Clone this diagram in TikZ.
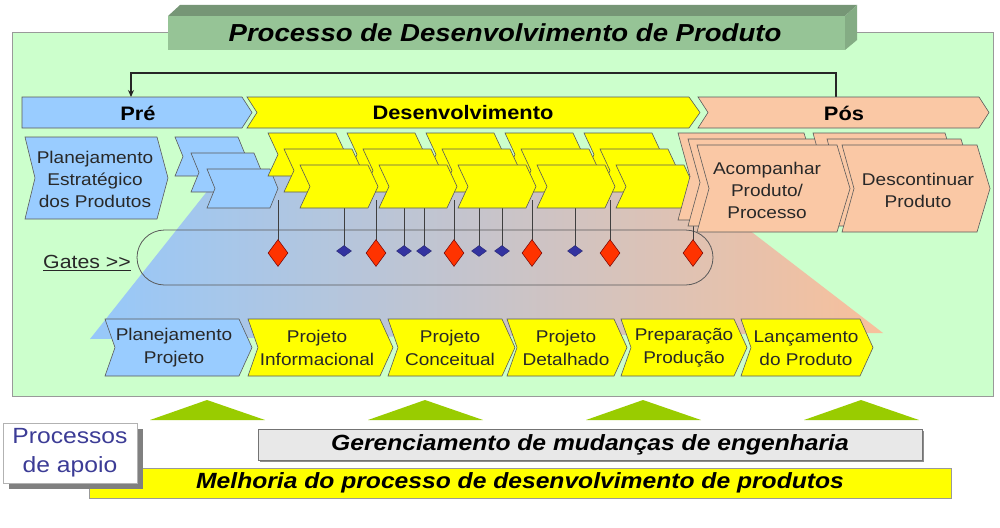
\documentclass[tikz,border=0pt]{standalone}
\usepackage{fontspec}
\setmainfont{Liberation Sans}[FakeStretch=1.12]
\usetikzlibrary{shapes.geometric,arrows.meta}
\definecolor{bggreen}{RGB}{204,255,204}
\definecolor{chblue}{RGB}{153,204,255}
\definecolor{chyel}{RGB}{255,255,0}
\definecolor{chpeach}{RGB}{250,200,165}
\definecolor{edge}{RGB}{90,90,90}
\definecolor{ttfront}{RGB}{150,196,150}
\definecolor{tttop}{RGB}{118,150,118}
\definecolor{ttside}{RGB}{132,172,132}
\definecolor{gred}{RGB}{255,51,0}
\definecolor{gblue}{RGB}{51,51,160}
\definecolor{trigreen}{RGB}{153,204,0}
\definecolor{lbl}{RGB}{40,40,40}
\definecolor{apoio}{RGB}{60,60,150}
\definecolor{shblue}{RGB}{150,200,250}
\definecolor{shmid}{RGB}{210,196,218}
\definecolor{shpeach}{RGB}{248,192,155}
\newcommand\chv[7]{\path[#7] ({#1},{#2}) -- ({#3-#5},{#2}) -- ({#3},{(#2+#4)/2}) -- ({#3-#5},{#4}) -- ({#1},{#4}) -- ({#1+#6},{(#2+#4)/2}) -- cycle;}
\tikzset{
  chev/.style={draw=edge,line width=0.6pt},
  lab/.style={font=\fontsize{17}{22}\selectfont, align=center, text=lbl, inner sep=0pt},
  phase/.style={font=\bfseries\fontsize{19.5}{22}\selectfont, text=black, inner sep=0pt},
  reddia/.style={diamond, draw=red!45!black, fill=gred, inner sep=0pt, minimum width=20pt, minimum height=27pt, line width=0.5pt},
  bluedia/.style={diamond, fill=gblue, draw=gblue!70!black, inner sep=0pt, minimum width=15pt, minimum height=11pt, line width=0.4pt},
  stem/.style={draw=edge!70!black, line width=0.8pt},
}
\begin{document}
\begin{tikzpicture}[x=1pt,y=-1pt]
\useasboundingbox (0,0) rectangle (1000,527);
\fill[white] (0,0) rectangle (1000,527);
% main box
\draw[fill=bggreen, draw=black!40, line width=1pt] (12,33) rectangle (993,396);
% title box
\fill[tttop] (168,16) -- (180,5) -- (857,5) -- (845,16) -- cycle;
\fill[ttside] (845,16) -- (857,5) -- (857,40) -- (845,50) -- cycle;
\fill[ttfront] (168,16) rectangle (845,50);
\node[font=\bfseries\itshape\fontsize{24.6}{28}\selectfont, inner sep=0pt] (title) at (505,33) {Processo de Desenvolvimento de Produto};
% gradient background
\shade[left color=shblue, middle color=shmid, right color=shpeach] (90,339) -- (224,170) -- (671,170) -- (883,333) -- cycle;
% feedback arrow
\coordinate (fbstart) at (836,97);
\coordinate (fbend) at (131,97);
\draw[line width=1.3pt, black!85, -{Stealth[length=7pt,width=6pt]}] (fbstart) -- ++(0,-24) -| (fbend);
% top phase bars
\chv{22}{97}{252}{128}{10}{0}{chev,fill=chblue}
\chv{247}{97}{700}{128}{11}{10}{chev,fill=chyel}
\chv{698}{97}{989}{128}{10}{10}{chev,fill=chpeach}
\node[phase] (pre) at (138,113) {Pré};
\node[phase] (desenv) at (463,113) {Desenvolvimento};
\node[phase] (pos) at (844,113) {Pós};
% gates capsule
\draw[edge, line width=0.8pt, rounded corners=27.5pt] (137,230) rectangle (713,285);
\node[font=\fontsize{19}{22}\selectfont, text=lbl, inner sep=0pt] (gates) at (87,263) {\underline{Gates >{}>}};
% stems
\foreach \x/\t in {278/200,376/200,454/200,532/200,610/200,693/215}{
  \draw[stem] (\x,\t) -- (\x,241);
}
\foreach \x in {344,404,424,479,502,575}{
  \draw[stem] (\x,200) -- (\x,246);
}
% second row
\chv{25}{137}{168}{219}{11}{10}{chev,fill=chblue}
\node[lab] (pes) at (95,179) {Planejamento\\Estratégico\\dos Produtos};
\chv{175}{137}{246}{176}{8}{8}{chev,fill=chblue}
\chv{191}{153}{262}{192}{8}{8}{chev,fill=chblue}
\chv{207}{169}{278}{208}{8}{8}{chev,fill=chblue}
\foreach \o in {0,16,32}{
  \foreach \g in {0,...,4}{
    \pgfmathsetmacro\xa{268+79*\g+\o}
    \pgfmathsetmacro\ya{133+\o}
    \chv{\xa}{\ya}{\xa+78}{\ya+43}{10}{10}{chev,fill=chyel}
  }
}
% pos stacks
\chv{678}{133}{817}{220}{13}{12}{chev,fill=chpeach}
\chv{688}{139}{834}{226}{13}{12}{chev,fill=chpeach}
\chv{813}{133}{958}{220}{13}{12}{chev,fill=chpeach}
\chv{827}{139}{974}{226}{13}{12}{chev,fill=chpeach}
\chv{697}{145}{850}{232}{13}{12}{chev,fill=chpeach}
\chv{842}{145}{990}{232}{13}{12}{chev,fill=chpeach}
\node[lab] (acomp) at (767,190) {Acompanhar\\Produto/\\Processo};
\node[lab] (descont) at (918,190) {Descontinuar\\Produto};
% diamonds
\foreach \x [count=\i] in {278,376,454,532,610,693}{
  \node[reddia] (r\i) at (\x,253) {};
}
\foreach \x [count=\i] in {344,404,424,479,502,575}{
  \node[bluedia] (b\i) at (\x,251) {};
}
% bottom row
\chv{105}{319}{252}{376}{13}{10}{chev,fill=chblue}
\chv{248}{319}{393}{376}{13}{10}{chev,fill=chyel}
\chv{388}{319}{515}{376}{13}{10}{chev,fill=chyel}
\chv{507}{319}{627}{376}{13}{10}{chev,fill=chyel}
\chv{621}{319}{747}{376}{13}{10}{chev,fill=chyel}
\chv{741}{319}{873}{376}{13}{10}{chev,fill=chyel}
\tikzset{lab2/.style={lab, font=\fontsize{17}{23}\selectfont}}
\node[lab2] (pp) at (174,348) {Planejamento\\Projeto};
\node[lab2] (pi) at (317,348) {Projeto\\Informacional};
\node[lab2] (pc) at (450,348) {Projeto\\Conceitual};
\node[lab2] (pd) at (566,348) {Projeto\\Detalhado};
\node[lab2] (pr) at (684,348) {Preparação\\Produção};
\node[lab2] (lp) at (806,348) {Lançamento\\do Produto};
% triangles
\foreach \x in {207,425,643,861}{
  \fill[trigreen] (\x-57,420) -- (\x,400) -- (\x+58,420) -- cycle;
}
% support processes
\fill[black!45] (260,431) rectangle (924,462);
\node[draw=black!55, fill=black!9, line width=0.6pt, minimum width=664pt, minimum height=31pt, inner sep=0pt, font=\bfseries\itshape\fontsize{22}{24}\selectfont] (gerenc) at (590,444.5) {Gerenciamento de mudanças de engenharia};
\node[draw=black!40, fill=chyel, line width=0.6pt, minimum width=862pt, minimum height=30pt, inner sep=0pt, font=\bfseries\itshape\fontsize{22}{24}\selectfont] (melhoria) at (520,483) {Melhoria do processo de desenvolvimento de produtos};
\fill[black!50] (9,429) rectangle (143,489);
\node[draw=black!30, fill=white, line width=0.6pt, minimum width=134pt, minimum height=60pt, inner sep=0pt, align=center, text=apoio, font=\fontsize{22}{29}\selectfont] (apoio) at (70,453) {Processos\\de apoio};
\end{tikzpicture}
\end{document}
